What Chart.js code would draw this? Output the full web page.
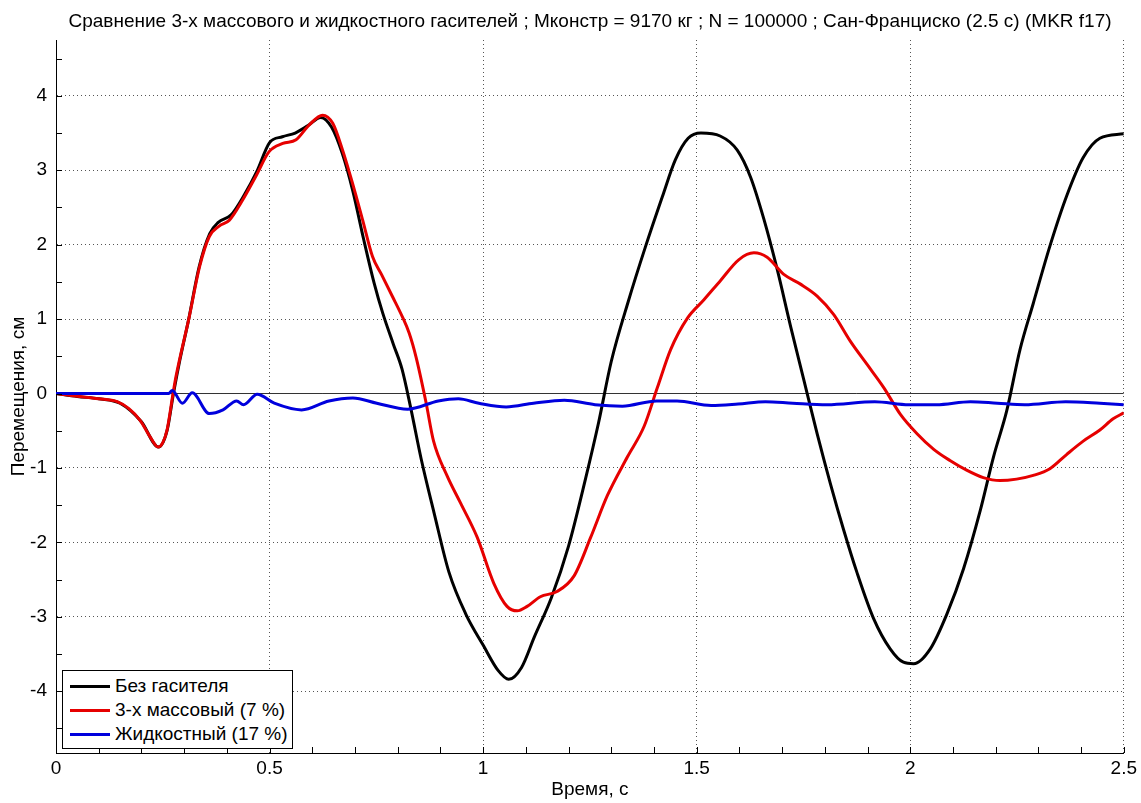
<!DOCTYPE html>
<html>
<head>
<meta charset="utf-8">
<script src="https://cdn.jsdelivr.net/npm/chart.js@4.4.1/dist/chart.umd.min.js"></script>
<style>
    body { margin: 0; background: #fff; }
    #wrap { position: relative; width: 1141px; height: 803px; }
    #title {
        position: absolute; left: 56px; top: 10px; width: 1068px; height: 22px; line-height: 22px;
        text-align: center; white-space: nowrap;
        font-family: "Liberation Sans", Arial, sans-serif; font-size: 19px; color: #000;
    }
    #legend {
        position: absolute; left: 62px; top: 670px; width: 229px; height: 77px;
        border: 1px solid #000; background: #fff;
        font-family: "Liberation Sans", Arial, sans-serif; font-size: 19px; color: #000;
    }
    .row { position: absolute; left: 7px; height: 24px; line-height: 24px; white-space: nowrap; }
    .row span.sw { display: inline-block; width: 40px; height: 3px; vertical-align: middle; margin-right: 5px; }
</style>
</head>
<body>
<div id="wrap">
    <canvas id="chart"></canvas>
    <div id="title"></div>
    <div id="legend"></div>
</div>
<script>
// Series data (time in s, displacement in cm)
const blackT = [0, 0.05, 0.1, 0.15, 0.2, 0.24, 0.26, 0.275, 0.29, 0.31, 0.335, 0.36, 0.38, 0.41, 0.44, 0.47, 0.5, 0.53, 0.56, 0.59, 0.62, 0.645, 0.67, 0.695, 0.72, 0.745, 0.765, 0.79, 0.81, 0.83, 0.855, 0.885, 0.92, 0.96, 1.0, 1.035, 1.06, 1.09, 1.12, 1.16, 1.2, 1.24, 1.27, 1.3, 1.34, 1.38, 1.42, 1.45, 1.48, 1.51, 1.555, 1.595, 1.626, 1.657, 1.688, 1.72, 1.751, 1.782, 1.813, 1.844, 1.875, 1.914, 1.953, 1.984, 2.008, 2.047, 2.086, 2.125, 2.164, 2.195, 2.226, 2.257, 2.288, 2.327, 2.366, 2.405, 2.444, 2.5];
const blackY = [0, -0.04, -0.07, -0.13, -0.38, -0.72, -0.5, 0.0, 0.45, 0.98, 1.7, 2.15, 2.3, 2.4, 2.66, 2.98, 3.37, 3.45, 3.5, 3.6, 3.71, 3.58, 3.23, 2.72, 2.08, 1.48, 1.08, 0.66, 0.33, -0.18, -0.88, -1.6, -2.4, -2.97, -3.38, -3.72, -3.84, -3.68, -3.27, -2.74, -2.05, -1.14, -0.4, 0.43, 1.24, 1.97, 2.65, 3.14, 3.43, 3.5, 3.46, 3.27, 2.91, 2.35, 1.68, 0.9, 0.18, -0.54, -1.21, -1.83, -2.4, -3.02, -3.43, -3.61, -3.63, -3.43, -2.96, -2.35, -1.57, -0.85, -0.23, 0.59, 1.21, 1.98, 2.65, 3.17, 3.43, 3.49];

const redT = [0, 0.04, 0.1, 0.143, 0.17, 0.197, 0.22, 0.239, 0.25, 0.26, 0.274, 0.281, 0.312, 0.336, 0.359, 0.382, 0.406, 0.437, 0.468, 0.499, 0.531, 0.562, 0.593, 0.624, 0.648, 0.671, 0.694, 0.718, 0.741, 0.762, 0.788, 0.811, 0.827, 0.843, 0.866, 0.884, 0.916, 0.947, 0.986, 1.025, 1.056, 1.08, 1.103, 1.134, 1.173, 1.213, 1.252, 1.291, 1.338, 1.377, 1.408, 1.439, 1.478, 1.517, 1.556, 1.599, 1.634, 1.665, 1.704, 1.743, 1.782, 1.821, 1.86, 1.899, 1.938, 1.977, 2.016, 2.055, 2.093, 2.132, 2.171, 2.21, 2.249, 2.288, 2.327, 2.366, 2.405, 2.444, 2.475, 2.5];
const redY = [0, -0.03, -0.07, -0.11, -0.2, -0.36, -0.58, -0.72, -0.66, -0.49, 0, 0.23, 1.03, 1.7, 2.11, 2.25, 2.33, 2.6, 2.92, 3.25, 3.36, 3.41, 3.61, 3.74, 3.63, 3.27, 2.83, 2.33, 1.84, 1.6, 1.3, 1.03, 0.81, 0.49, -0.11, -0.64, -1.11, -1.47, -1.93, -2.55, -2.86, -2.92, -2.86, -2.73, -2.66, -2.45, -1.93, -1.37, -0.85, -0.44, 0.08, 0.59, 1.01, 1.26, 1.52, 1.8, 1.89, 1.83, 1.6, 1.47, 1.31, 1.06, 0.7, 0.39, 0.08, -0.28, -0.54, -0.75, -0.9, -1.03, -1.13, -1.17, -1.15, -1.1, -1.01, -0.82, -0.64, -0.49, -0.34, -0.26];

const blueT = [0, 0.1, 0.2, 0.264, 0.272, 0.296, 0.319, 0.359, 0.391, 0.423, 0.439, 0.471, 0.511, 0.575, 0.639, 0.695, 0.751, 0.823, 0.895, 0.942, 0.99, 1.054, 1.118, 1.19, 1.262, 1.326, 1.406, 1.454, 1.534, 1.597, 1.661, 1.725, 1.805, 1.917, 1.997, 2.061, 2.141, 2.204, 2.268, 2.364, 2.444, 2.5];
const blueY = [0, 0, 0, 0, 0.04, -0.13, 0.01, -0.27, -0.22, -0.1, -0.15, -0.01, -0.13, -0.22, -0.1, -0.06, -0.13, -0.21, -0.1, -0.07, -0.13, -0.18, -0.13, -0.09, -0.15, -0.17, -0.1, -0.1, -0.16, -0.14, -0.11, -0.13, -0.15, -0.11, -0.15, -0.15, -0.11, -0.13, -0.15, -0.11, -0.13, -0.15];

const zeroT = [0, 2.5];
const zeroY = [0, 0];

const titleText = 'Сравнение 3-х массового и жидкостного гасителей ; Мконстр = 9170 кг ; N = 100000 ; Сан-Франциско (2.5 с) (MKR f17)';
const seriesLabels = ['Без гасителя', '3-х массовый (7 %)', 'Жидкостный (17 %)'];
const seriesColors = ['#000000', '#e60000', '#0000dd'];

const xMajor = [0, 0.5, 1, 1.5, 2, 2.5];
const yMajor = [-4, -3, -2, -1, 0, 1, 2, 3, 4];
const xMinorStep = 0.1;
const yMinorStep = 0.5;
const xRange = [0, 2.5];
const yRange = [-4.83, 4.75];

function toPoints(ts, ys) {
    return ts.map((t, i) => ({ x: t, y: ys[i] }));
}

function stepValues(min, max, step) {
    const out = [];
    for (let v = Math.ceil(min / step) * step; v <= max + 1e-9; v += step) {
        out.push(Math.round(v * 1000) / 1000);
    }
    return out;
}

const xTickValues = stepValues(xRange[0], xRange[1], xMinorStep);
const yTickValues = stepValues(yRange[0], yRange[1], yMinorStep);

const isMajor = (list, v) => list.some(m => Math.abs(m - v) < 1e-6);
const FONT = '"Liberation Sans", Arial, sans-serif';

// inward tick marks, MATLAB style
const inwardTicks = {
    id: 'inwardTicks',
    afterDatasetsDraw(chart) {
        const { ctx, chartArea, scales } = chart;
        ctx.save();
        ctx.strokeStyle = '#000';
        ctx.lineWidth = 1;
        ctx.beginPath();
        scales.x.ticks.forEach(t => {
            const px = Math.round(scales.x.getPixelForValue(t.value)) + 0.5;
            ctx.moveTo(px, chartArea.bottom);
            ctx.lineTo(px, chartArea.bottom - 6);
        });
        scales.y.ticks.forEach(t => {
            const py = Math.round(scales.y.getPixelForValue(t.value)) + 0.5;
            ctx.moveTo(chartArea.left, py);
            ctx.lineTo(chartArea.left + 6, py);
        });
        ctx.stroke();
        ctx.restore();
    }
};

const datasets = [
    { label: seriesLabels[0], data: toPoints(blackT, blackY), borderColor: seriesColors[0], order: 3 },
    { label: seriesLabels[1], data: toPoints(redT, redY), borderColor: seriesColors[1], order: 2 },
    { label: seriesLabels[2], data: toPoints(blueT, blueY), borderColor: seriesColors[2], order: 1 },
].map(d => ({ ...d, borderWidth: 3, pointRadius: 0, cubicInterpolationMode: 'monotone', fill: false }));

datasets.push({
    label: 'zero', data: toPoints(zeroT, zeroY), borderColor: '#333', borderWidth: 1,
    pointRadius: 0, order: 4, fill: false
});

new Chart(document.getElementById('chart'), {
    type: 'line',
    data: { datasets: datasets },
    plugins: [inwardTicks],
    options: {
        responsive: true,
        maintainAspectRatio: false,
        animation: false,
        layout: { padding: { left: 0, right: 17, top: 40, bottom: 0 } },
        plugins: {
            legend: { display: false },
            tooltip: { enabled: false },
            title: { display: false }
        },
        scales: {
            x: {
                type: 'linear',
                min: xRange[0],
                max: xRange[1],
                afterBuildTicks: scale => { scale.ticks = xTickValues.map(v => ({ value: v })); },
                afterFit: scale => { scale.height = 50; },
                ticks: {
                    autoSkip: false,
                    maxRotation: 0,
                    padding: 4,
                    color: '#000',
                    font: { family: FONT, size: 19 },
                    callback: v => isMajor(xMajor, v) ? String(v) : ''
                },
                grid: {
                    drawTicks: false,
                    color: ctx => (ctx.tick && isMajor(xMajor, ctx.tick.value)) ? '#555' : 'rgba(0,0,0,0)',
                    lineWidth: 1
                },
                border: { display: true, color: '#000', width: 1, dash: [1, 3] },
                title: {
                    display: true,
                    text: 'Время, с',
                    color: '#000',
                    font: { family: FONT, size: 19 },
                    padding: { top: 0, bottom: 2 }
                }
            },
            y: {
                type: 'linear',
                min: yRange[0],
                max: yRange[1],
                afterBuildTicks: scale => { scale.ticks = yTickValues.map(v => ({ value: v })); },
                afterFit: scale => { scale.width = 56; },
                ticks: {
                    autoSkip: false,
                    padding: 9,
                    color: '#000',
                    font: { family: FONT, size: 19 },
                    callback: v => isMajor(yMajor, v) ? String(v) : ''
                },
                grid: {
                    drawTicks: false,
                    color: ctx => (ctx.tick && isMajor(yMajor, ctx.tick.value)) ? '#555' : 'rgba(0,0,0,0)',
                    lineWidth: 1
                },
                border: { display: true, color: '#000', width: 1, dash: [1, 3] },
                title: {
                    display: true,
                    text: 'Перемещения, см',
                    color: '#000',
                    font: { family: FONT, size: 19 },
                    padding: { top: 7, bottom: 0 }
                }
            }
        }
    }
});

document.getElementById('title').textContent = titleText;

// legend box inside the plot, bottom left
const legend = document.getElementById('legend');
seriesLabels.forEach((label, i) => {
    const row = document.createElement('div');
    row.className = 'row';
    row.style.top = (3 + i * 24) + 'px';
    row.innerHTML = `<span class="sw" style="background:${seriesColors[i]}"></span>${label}`;
    legend.appendChild(row);
});
</script>
</body>
</html>
